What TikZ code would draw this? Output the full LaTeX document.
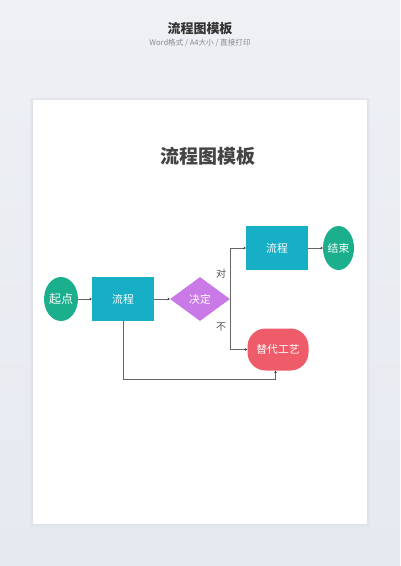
\documentclass[tikz,border=0pt]{standalone}
\usepackage{fontspec}
\setmainfont{Noto Sans CJK SC}
\usetikzlibrary{shapes.geometric,arrows.meta}
\definecolor{bgtop}{HTML}{EEF0F4}
\definecolor{bgbot}{HTML}{E6E9F0}
\definecolor{shadowc}{HTML}{DEE1E8}
\definecolor{titlec}{HTML}{333333}
\definecolor{subc}{HTML}{8A8A8A}
\definecolor{innertc}{HTML}{444444}
\definecolor{tealc}{HTML}{1BAF8E}
\definecolor{cyanc}{HTML}{17AFC6}
\definecolor{purplec}{HTML}{C97AE6}
\definecolor{redc}{HTML}{EE5C6A}
\definecolor{linec}{HTML}{666666}
\definecolor{tipc}{HTML}{333333}
\definecolor{lblc}{HTML}{555555}
\tikzset{
  nodetext/.style={text=white,font=\fontsize{10.8}{12}\selectfont,inner sep=0pt},
  startend/.style={nodetext,ellipse,fill=tealc,minimum width=31pt,minimum height=44pt},
  procbox/.style={nodetext,rectangle,fill=cyanc,minimum width=62pt,minimum height=44pt},
  decision/.style={nodetext,diamond,fill=purplec,minimum width=60pt,minimum height=44pt,shape aspect=1.36},
  altbox/.style={nodetext,rectangle,rounded corners=18pt,fill=redc,minimum width=61pt,minimum height=42pt},
  conn/.style={draw=linec,line width=0.9pt,-{Stealth[length=2.3pt,width=2.6pt,color=tipc]}},
  lbl/.style={text=lblc,font=\fontsize{10}{12}\selectfont,inner sep=0pt}
}
\begin{document}
\begin{tikzpicture}[x=1pt,y=-1pt]
\useasboundingbox (0,0) rectangle (400,566);
\shade[top color=bgtop,bottom color=bgbot] (0,0) rectangle (400,566);
\fill[shadowc,opacity=0.6] (30,98) rectangle (370,527);
\fill[shadowc] (32,99.5) rectangle (368,525);
\fill[white] (33,100) rectangle (367,523.5);
\node[text=titlec,font=\fontsize{13}{15}\selectfont\bfseries] (title) at (200,28.3) {流程图模板};
\node[text=subc,font=\fontsize{7.6}{9}\selectfont] (subtitle) at (200,42.7) {Word格式 / A4大小 / 直接打印};
\node[text=innertc,font=\fontsize{19}{22}\selectfont\bfseries] (inner) at (207.7,156.7) {流程图模板};
\node[startend,font=\fontsize{12}{14}\selectfont] (s) at (61,299) {起点};
\node[procbox] (p1) at (123,299) {流程};
\node[decision] (d) at (200,299) {决定};
\node[procbox] (p2) at (277,248) {流程};
\node[startend] (e) at (338.5,248) {结束};
\node[altbox] (a) at (278,349.5) {替代工艺};
\coordinate (bc) at (123,379);
\draw[conn] (s) -- (p1);
\draw[conn] (p1) -- (d);
\draw[conn] (d.east) |- (p2.west);
\draw[conn] (d.east) |- (a.west);
\draw[conn] (p2) -- (e);
\draw[conn] (p1.south) -- (bc) -| ([xshift=-2.5pt]a.south);
\node[lbl] (yes) at (221,273.3) {对};
\node[lbl] (no) at (221,327.3) {不};
\end{tikzpicture}
\end{document}
